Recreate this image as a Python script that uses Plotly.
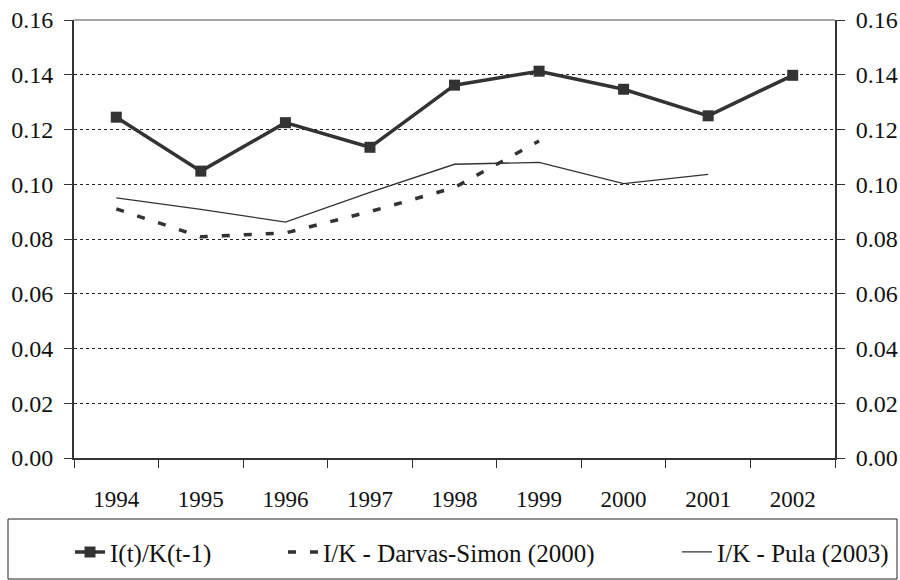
import plotly.graph_objects as go

years = ["1994", "1995", "1996", "1997", "1998", "1999", "2000", "2001", "2002"]
ik_ratio = [0.1245, 0.1048, 0.1225, 0.1135, 0.1362, 0.1413, 0.1347, 0.1250, 0.1398]
darvas_simon = [0.0910, 0.0808, 0.0822, 0.0900, 0.0988, 0.1158, None, None, None]
pula = [0.0950, 0.0908, 0.0862, 0.0970, 0.1073, 0.1080, 0.1002, 0.1036, None]
y_ticks = [0.0, 0.02, 0.04, 0.06, 0.08, 0.10, 0.12, 0.14, 0.16]

ink = "#333333"
serif = "Liberation Serif"
font = dict(family=serif, size=23, color="#111111")
yfont = dict(family=serif, size=24, color="#111111")

fig = go.Figure()

fig.add_trace(go.Scatter(
    x=years, y=ik_ratio, name="I(t)/K(t-1)",
    mode="lines+markers",
    line=dict(color=ink, width=3.5),
    marker=dict(symbol="square", size=11, color=ink),
    legend="legend",
))
fig.add_trace(go.Scatter(
    x=years, y=darvas_simon, name="I/K - Darvas-Simon (2000)",
    mode="lines",
    line=dict(color=ink, width=3.5, dash="8px,14px"),
    legend="legend2",
))
fig.add_trace(go.Scatter(
    x=years, y=pula, name="I/K - Pula (2003)",
    mode="lines",
    line=dict(color=ink, width=1.3),
    legend="legend3",
))
# invisible trace to carry the right-hand axis
fig.add_trace(go.Scatter(
    x=years, y=ik_ratio, yaxis="y2", mode="lines",
    line=dict(width=0), showlegend=False, hoverinfo="skip",
))

axis_y = dict(
    range=[0, 0.16],
    tickvals=y_ticks,
    tickformat=".2f",
    ticks="outside",
    ticklen=8,
    tickcolor=ink,
    showline=True,
    linecolor=ink,
    linewidth=2,
    tickfont=yfont,
    ticklabelstandoff=6,
    ticklabeloverflow="allow",
    automargin=False,
)

leg = dict(
    orientation="h",
    yanchor="middle",
    y=-0.215,
    xanchor="left",
    font=dict(family=serif, size=25, color="#111111"),
    bgcolor="rgba(0,0,0,0)",
)

fig.update_layout(
    width=900,
    height=580,
    margin=dict(l=74, r=65, t=20, b=122, autoexpand=False),
    paper_bgcolor="white",
    plot_bgcolor="white",
    font=font,
    xaxis=dict(
        type="category",
        tickson="boundaries",
        ticks="outside",
        ticklen=8,
        tickcolor=ink,
        showline=True,
        linecolor=ink,
        linewidth=2,
        showgrid=False,
        tickfont=font,
        ticklabelstandoff=19,
        range=[-0.5, 8.5],
        automargin=False,
    ),
    yaxis=dict(
        **axis_y,
        showgrid=True,
        gridcolor="#222222",
        gridwidth=1,
        griddash="3px,3px",
        zeroline=False,
    ),
    yaxis2=dict(
        **axis_y,
        overlaying="y",
        side="right",
        showgrid=False,
        zeroline=False,
    ),
    showlegend=True,
    legend=dict(leg, x=(70 - 74) / 761),
    legend2=dict(leg, x=(283 - 74) / 761),
    legend3=dict(leg, x=(677 - 74) / 761),
    shapes=[
        dict(type="line", xref="paper", yref="paper", x0=0, x1=1, y0=1, y1=1,
             line=dict(color="#888888", width=1.5)),
        dict(type="rect", xref="paper", yref="paper",
             x0=(8 - 74) / 761, x1=(897 - 74) / 761,
             y0=(458 - 519) / 438, y1=(458 - 579) / 438,
             line=dict(color="#222222", width=1)),
    ],
)

# drop the browser's default 8px body margin so the figure fills the window
fig.write_html(
    "out.html",
    config={"displayModeBar": False},
    post_script="document.body.style.margin='0';document.body.style.overflow='hidden';",
)
